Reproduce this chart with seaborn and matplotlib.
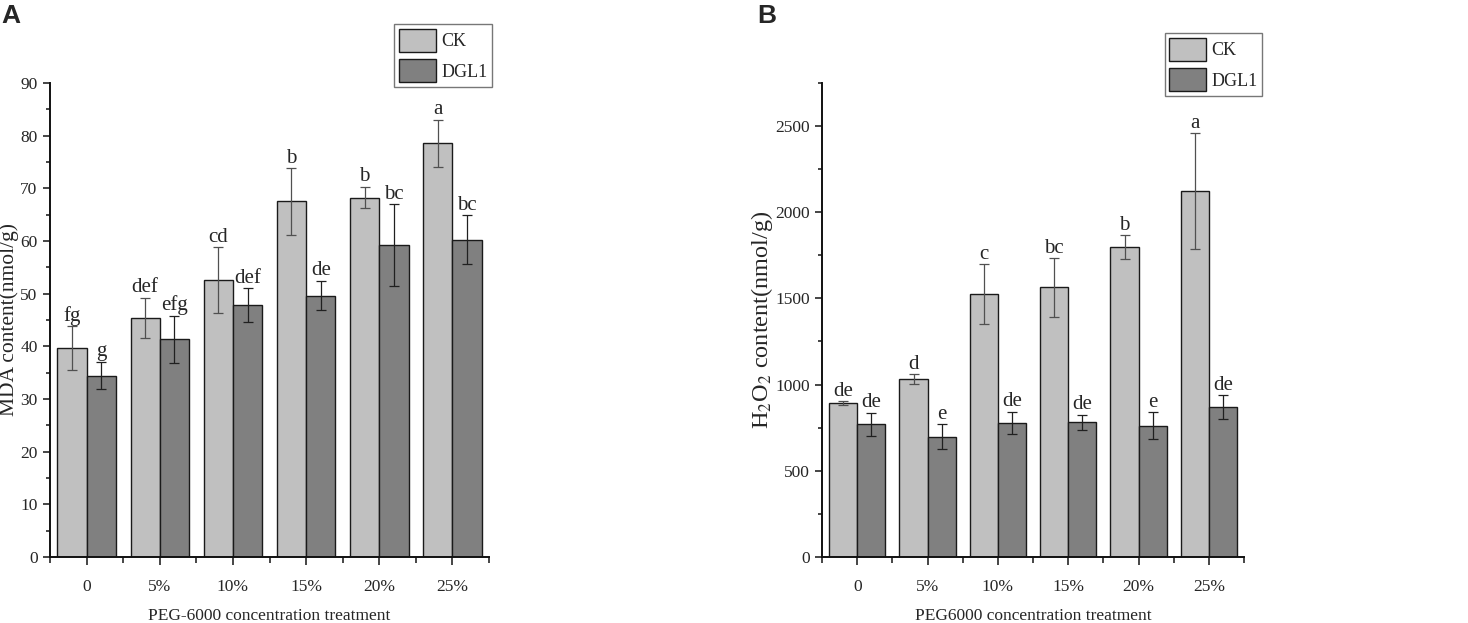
import numpy as np
import pandas as pd
import matplotlib
matplotlib.use("Agg")
import matplotlib.pyplot as plt
import seaborn as sns
from matplotlib.ticker import MultipleLocator, FixedLocator

treatments = ["0", "5%", "10%", "15%", "20%", "25%"]
groups = ["CK", "DGL1"]

# panel A: MDA content
mda_ck = [39.6, 45.4, 52.6, 67.5, 68.2, 78.5]
mda_ck_err = [4.2, 3.8, 6.2, 6.3, 2.05, 4.45]
mda_dgl = [34.4, 41.3, 47.8, 49.6, 59.2, 60.2]
mda_dgl_err = [2.6, 4.5, 3.2, 2.75, 7.75, 4.65]
mda_ck_letters = ["fg", "def", "cd", "b", "b", "a"]
mda_dgl_letters = ["g", "efg", "def", "de", "bc", "bc"]

# panel B: H2O2 content
h2o2_ck = [892, 1031, 1525, 1563, 1798, 2123]
h2o2_ck_err = [10, 29, 173, 169, 67, 334]
h2o2_dgl = [770, 698, 776, 781, 760, 868]
h2o2_dgl_err = [67, 72, 65, 43, 78, 70]
h2o2_ck_letters = ["de", "d", "c", "bc", "b", "a"]
h2o2_dgl_letters = ["de", "e", "de", "de", "e", "de"]

sns.set_style("ticks")
plt.rcParams["font.family"] = ["Liberation Serif", "DejaVu Serif"]
plt.rcParams["mathtext.fontset"] = "stix"

SERIF = "Liberation Serif"
colors = {"CK": "#c0c0c0", "DGL1": "#808080"}


def draw_panel(ax, ck, ck_err, dgl, dgl_err, ck_let, dgl_let, ymax, major, minor,
               ylabel, xlabel, leg_anchor, ylabel_size, ylabel_pad):
    df = pd.DataFrame({
        "treatment": treatments * 2,
        "group": ["CK"] * len(ck) + ["DGL1"] * len(dgl),
        "value": ck + dgl,
    })
    sns.barplot(data=df, x="treatment", y="value", hue="group", order=treatments,
                hue_order=groups, palette=colors, saturation=1, errorbar=None,
                edgecolor="#1a1a1a", linewidth=1.0, width=0.8, ax=ax)

    err_colors = ["#505050", "#202020"]
    for cont, errs, lets, ec in zip(ax.containers, [ck_err, dgl_err], [ck_let, dgl_let], err_colors):
        xs = [p.get_x() + p.get_width() / 2 for p in cont]
        ys = [p.get_height() for p in cont]
        ax.errorbar(xs, ys, yerr=errs, fmt="none", ecolor=ec, elinewidth=0.9,
                    capsize=3.5, capthick=0.9, zorder=3)
        for x, y, e, t in zip(xs, ys, errs, lets):
            ax.annotate(t, (x, y + e), xytext=(0, 0.5), textcoords="offset points",
                        ha="center", va="bottom", fontsize=15, family=SERIF)

    ax.set_xlim(-0.5, len(treatments) - 0.5)
    ax.set_ylim(0, ymax)
    ax.yaxis.set_major_locator(MultipleLocator(major))
    ax.yaxis.set_minor_locator(MultipleLocator(minor))
    ax.xaxis.set_minor_locator(FixedLocator(np.arange(-0.5, len(treatments), 1.0)))
    ax.tick_params(axis="both", which="major", labelsize=12.5, width=1.2, direction="out")
    ax.tick_params(axis="y", which="major", length=5, pad=4)
    ax.tick_params(axis="y", which="minor", length=3, width=1.2)
    ax.tick_params(axis="x", which="major", length=6, pad=10)
    ax.tick_params(axis="x", which="minor", length=4, width=1.2)
    for lab in ax.get_xticklabels() + ax.get_yticklabels():
        lab.set_family(SERIF)

    sns.despine(ax=ax)
    for s in ["left", "bottom"]:
        ax.spines[s].set_linewidth(1.4)
        ax.spines[s].set_color("#111111")

    ax.set_ylabel(ylabel, fontsize=ylabel_size, labelpad=ylabel_pad)
    ax.set_xlabel(xlabel, fontsize=12.5, labelpad=9)

    old = ax.get_legend()
    handles = old.legend_handles
    labels = [t.get_text() for t in old.get_texts()]
    old.remove()
    leg = ax.legend(handles, labels, loc="upper right", bbox_to_anchor=leg_anchor,
                    borderaxespad=0, fancybox=False, framealpha=1, edgecolor="#777777",
                    handlelength=2.05, handleheight=1.6, handletextpad=0.3,
                    borderpad=0.25, labelspacing=0.4, prop={"family": SERIF, "size": 13})
    leg.get_frame().set_linewidth(1.0)
    for h in leg.legend_handles:
        h.set_edgecolor("#1a1a1a")
        h.set_linewidth(1.0)


fig = plt.figure(figsize=(14.68, 6.23), dpi=100)
ax_a = fig.add_axes([0.0341, 0.106, 0.299, 0.761])
ax_b = fig.add_axes([0.560, 0.106, 0.2875, 0.761])

draw_panel(ax_a, mda_ck, mda_ck_err, mda_dgl, mda_dgl_err, mda_ck_letters, mda_dgl_letters,
           90, 10, 5, "MDA content(nmol/g)", "PEG-6000 concentration treatment",
           (1.007, 1.124), 15.5, 0.5)
draw_panel(ax_b, h2o2_ck, h2o2_ck_err, h2o2_dgl, h2o2_dgl_err, h2o2_ck_letters, h2o2_dgl_letters,
           2750, 500, 250, "H$_2$O$_2$ content(nmol/g)", "PEG6000 concentration treatment",
           (1.043, 1.105), 17.5, 0)

fig.text(0.001, 0.993, "A", fontsize=19, fontweight="bold", family="Liberation Sans",
         ha="left", va="top")
fig.text(0.5157, 0.993, "B", fontsize=19, fontweight="bold", family="Liberation Sans",
         ha="left", va="top")

fig.savefig("out.png", dpi=100)
